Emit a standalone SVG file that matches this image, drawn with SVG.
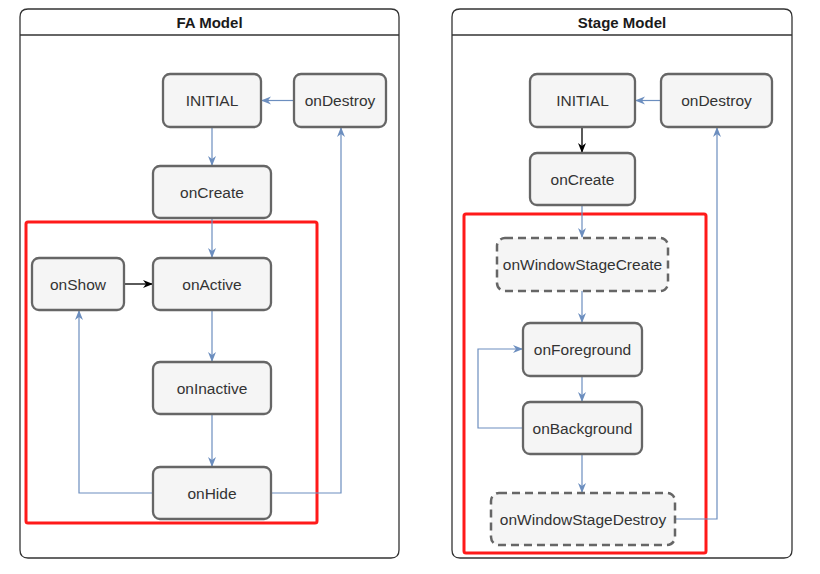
<svg xmlns="http://www.w3.org/2000/svg" width="820" height="574" viewBox="0 0 820 574">
<style>
.panel{fill:#fff;stroke:#333;stroke-width:1.3}
.title{font-family:"Liberation Sans",Arial,sans-serif;font-size:15px;font-weight:bold;fill:#1a1a1a;text-anchor:middle}
.node rect{fill:#f5f5f5;stroke:#666;stroke-width:2.3}
.dash rect{stroke-dasharray:8 5;stroke-width:2.5}
.node text{font-family:"Liberation Sans",Arial,sans-serif;font-size:15.5px;fill:#333;text-anchor:middle;dominant-baseline:central}
.red{fill:none;stroke:#ff1a1a;stroke-width:3}
.c{fill:none;stroke:#6c8ebf;stroke-width:1.2}
.k{fill:none;stroke:#000;stroke-width:1.3}
</style>
<defs>
<marker id="ab" viewBox="0 0 10 10" refX="9" refY="5" markerWidth="10" markerHeight="10" markerUnits="userSpaceOnUse" orient="auto"><path d="M0,1 L10,5 L0,9 L3,5 Z" fill="#6c8ebf"/></marker>
<marker id="ak" viewBox="0 0 10 10" refX="9" refY="5" markerWidth="10" markerHeight="10" markerUnits="userSpaceOnUse" orient="auto"><path d="M0,1 L10,5 L0,9 L3,5 Z" fill="#000"/></marker>
</defs>
<rect width="820" height="574" fill="#fff"/>
<g id="fa-panel">
<path class="panel" d="M28,9 H391 Q399,9 399,17 V550 Q399,558 391,558 H28 Q20,558 20,550 V17 Q20,9 28,9 Z"/>
<line x1="20" y1="35" x2="399" y2="35" stroke="#333" stroke-width="1.3"/>
<text class="title" x="209.5" y="27.5">FA Model</text>
</g>
<g id="stage-panel">
<path class="panel" d="M460,9 H784 Q792,9 792,17 V550 Q792,558 784,558 H460 Q452,558 452,550 V17 Q452,9 460,9 Z"/>
<line x1="452" y1="35" x2="792" y2="35" stroke="#333" stroke-width="1.3"/>
<text class="title" x="622" y="27.5">Stage Model</text>
</g>
<rect id="fa-highlight" class="red" x="26" y="222" width="291" height="301" rx="2"/>
<rect id="stage-highlight" class="red" x="464" y="214" width="242" height="339" rx="2"/>
<g id="connectors">
<line class="c" x1="212" y1="127" x2="212" y2="165" marker-end="url(#ab)"/>
<line class="c" x1="294" y1="100.5" x2="262" y2="100.5" marker-end="url(#ab)"/>
<line class="c" x1="212" y1="218" x2="212" y2="257" marker-end="url(#ab)"/>
<line class="k" x1="124" y1="284" x2="152" y2="284" marker-end="url(#ak)"/>
<line class="c" x1="212" y1="310" x2="212" y2="361" marker-end="url(#ab)"/>
<line class="c" x1="212" y1="414" x2="212" y2="466" marker-end="url(#ab)"/>
<polyline class="c" points="153,493 79,493 79,311" marker-end="url(#ab)"/>
<polyline class="c" points="271,493 341,493 341,128" marker-end="url(#ab)"/>
<line class="c" x1="661" y1="100.5" x2="636" y2="100.5" marker-end="url(#ab)"/>
<line class="k" x1="582" y1="127" x2="582" y2="152" marker-end="url(#ak)"/>
<line class="c" x1="582" y1="205" x2="582" y2="237" marker-end="url(#ab)"/>
<line class="c" x1="582" y1="291" x2="582" y2="322" marker-end="url(#ab)"/>
<line class="c" x1="582" y1="376" x2="582" y2="401" marker-end="url(#ab)"/>
<polyline class="c" points="523,428 478,428 478,349 522,349" marker-end="url(#ab)"/>
<line class="c" x1="582" y1="454" x2="582" y2="492" marker-end="url(#ab)"/>
<polyline class="c" points="675,519 717,519 717,128" marker-end="url(#ab)"/>
</g>
<g id="fa-initial" class="node"><rect x="163" y="74" width="98" height="53" rx="7"/><text x="212" y="100.5">INITIAL</text></g>
<g id="fa-ondestroy" class="node"><rect x="294" y="74" width="92" height="53" rx="7"/><text x="340" y="100.5">onDestroy</text></g>
<g id="fa-oncreate" class="node"><rect x="153" y="166" width="118" height="52" rx="7"/><text x="212" y="192">onCreate</text></g>
<g id="fa-onshow" class="node"><rect x="32" y="258" width="92" height="52" rx="7"/><text x="78" y="284">onShow</text></g>
<g id="fa-onactive" class="node"><rect x="153" y="258" width="118" height="52" rx="7"/><text x="212" y="284">onActive</text></g>
<g id="fa-oninactive" class="node"><rect x="153" y="362" width="118" height="52" rx="7"/><text x="212" y="388">onInactive</text></g>
<g id="fa-onhide" class="node"><rect x="153" y="467" width="118" height="52" rx="7"/><text x="212" y="493">onHide</text></g>
<g id="st-initial" class="node"><rect x="530" y="74" width="105" height="53" rx="7"/><text x="582.5" y="100.5">INITIAL</text></g>
<g id="st-ondestroy" class="node"><rect x="661" y="74" width="111" height="53" rx="7"/><text x="716.5" y="100.5">onDestroy</text></g>
<g id="st-oncreate" class="node"><rect x="530" y="153" width="105" height="52" rx="7"/><text x="582.5" y="179">onCreate</text></g>
<g id="st-onwindowstagecreate" class="node dash"><rect x="497" y="238" width="171" height="53" rx="8"/><text x="582.5" y="264.5">onWindowStageCreate</text></g>
<g id="st-onforeground" class="node"><rect x="523" y="323" width="119" height="53" rx="7"/><text x="582.5" y="349.5">onForeground</text></g>
<g id="st-onbackground" class="node"><rect x="523" y="402" width="119" height="52" rx="7"/><text x="582.5" y="428">onBackground</text></g>
<g id="st-onwindowstagedestroy" class="node dash"><rect x="491" y="493" width="184" height="52" rx="8"/><text x="583" y="519">onWindowStageDestroy</text></g>
</svg>
